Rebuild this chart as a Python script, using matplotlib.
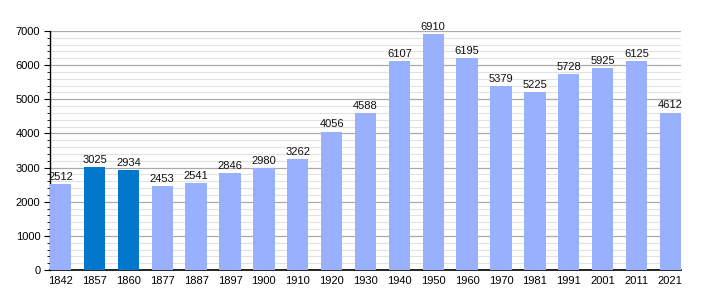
import matplotlib
matplotlib.use('agg')
import matplotlib.pyplot as plt
import numpy as np

years = ['1842', '1857', '1860', '1877', '1887', '1897', '1900', '1910', '1920', '1930',
         '1940', '1950', '1960', '1970', '1981', '1991', '2001', '2011', '2021']
population = [2512, 3025, 2934, 2453, 2541, 2846, 2980, 3262, 4056, 4588,
              6107, 6910, 6195, 5379, 5225, 5728, 5925, 6125, 4612]
highlight = ['1857', '1860']

plt.rcParams['font.family'] = 'Liberation Sans'

fig = plt.figure(figsize=(7.1, 3.0), dpi=100)
ax = fig.add_axes([50 / 710, 30 / 300, 631 / 710, 239 / 300])

w = 0.63
x = np.arange(len(years))
colors = ['#0077cc' if y in highlight else '#99b0ff' for y in years]
ax.bar(x, population, width=w, color=colors, zorder=3)
for xi, v in zip(x, population):
    ax.text(xi, v + 60, str(v), ha='center', va='bottom', fontsize=8, color='#111111', zorder=4)

ax.set_xlim(-w / 2, len(years) - 1 + w / 2)
ax.set_ylim(0, 7000)
ax.set_yticks(range(0, 7001, 1000))
ax.set_yticks(range(0, 7001, 200), minor=True)
ax.grid(axis='y', which='major', color='#aaaaaa', linewidth=0.9, zorder=0)
ax.grid(axis='y', which='minor', color='#e2e2e2', linewidth=0.8, zorder=0)
ax.set_xticks(x)
ax.set_xticklabels(years)
ax.tick_params(axis='x', length=0, labelsize=8, pad=4)
ax.tick_params(axis='y', which='major', length=4, labelsize=8, pad=3)
ax.tick_params(axis='y', which='minor', length=2)
for s in ['top', 'right']:
    ax.spines[s].set_visible(False)
ax.spines['left'].set_linewidth(1)
ax.spines['bottom'].set_linewidth(1.2)

fig.savefig('out.png', dpi=100)
